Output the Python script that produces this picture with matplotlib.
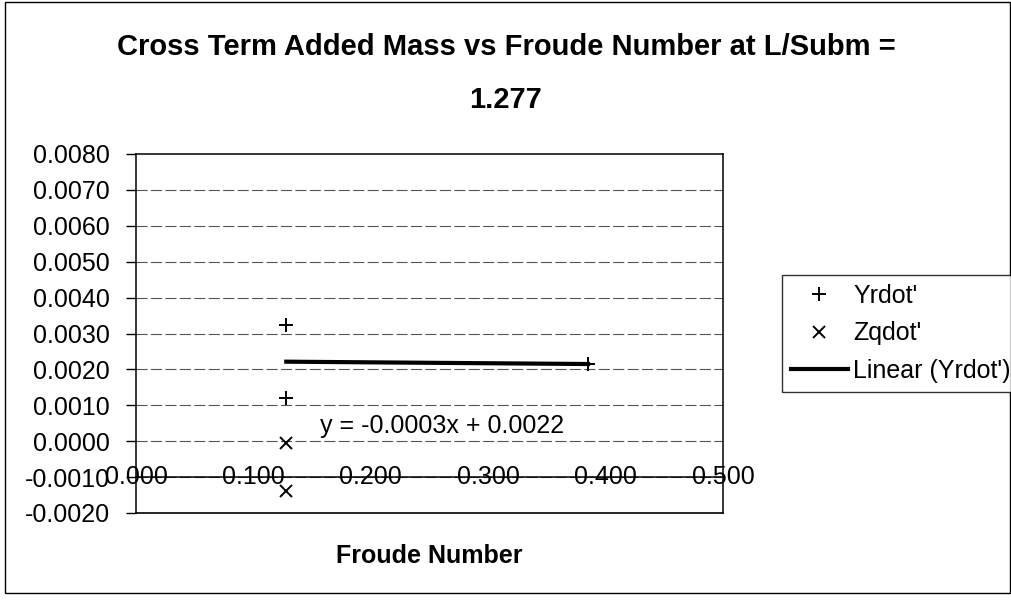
import numpy as np
import matplotlib.pyplot as plt
from matplotlib import font_manager
from matplotlib.patches import Rectangle

plt.rcParams['font.family'] = ['Liberation Sans', 'DejaVu Sans']

# Froude number / cross-term added mass data
yrdot_fn = [0.128, 0.128, 0.385]
yrdot_val = [0.00324, 0.00119, 0.00215]
zqdot_fn = [0.128, 0.128]
zqdot_val = [-0.00005, -0.00139]

x_ticks = [0.0, 0.1, 0.2, 0.3, 0.4, 0.5]
y_ticks = [-0.002, -0.001, 0.0, 0.001, 0.002, 0.003, 0.004, 0.005, 0.006, 0.007, 0.008]

title_lines = ['Cross Term Added Mass vs Froude Number at L/Subm =', '1.277']

# narrow bold face for the title if available
installed = {f.name for f in font_manager.fontManager.ttflist}
if 'Liberation Sans Narrow' in installed:
    title_font, title_size = 'Liberation Sans Narrow', 26
else:
    title_font, title_size = 'Liberation Sans', 21

# linear trendline on Yrdot'
slope, intercept = np.polyfit(yrdot_fn, yrdot_val, 1)

fig = plt.figure(figsize=(10.12, 6.0), dpi=100)
ax = fig.add_axes([136 / 1012, 1 - 513 / 600, 587 / 1012, 359 / 600])

# grid lines
for yv in y_ticks[1:-1]:
    ax.axhline(yv, color='#555555', lw=0.8, ls=(0, (10, 3)), zorder=1)

ax.plot(yrdot_fn, yrdot_val, ls='none', marker='+', ms=10, mew=1.4,
        color='black', label="Yrdot'", zorder=3)
ax.plot(zqdot_fn, zqdot_val, ls='none', marker='x', ms=8, mew=1.4,
        color='black', label="Zqdot'", zorder=3)

tx = np.array([min(yrdot_fn), max(yrdot_fn)])
ax.plot(tx, slope * tx + intercept, color='black', lw=3,
        label="Linear (Yrdot')", zorder=2)

ax.text(0.157, 0.00042, f"y = {slope:.4f}x + {intercept:.4f}",
        fontsize=18, ha='left', va='center')

ax.set_xlim(0, 0.5)
ax.set_ylim(-0.002, 0.008)
ax.set_xticks(x_ticks)
ax.set_xticklabels([f"{v:.3f}" for v in x_ticks])
ax.set_yticks(y_ticks)
ax.set_yticklabels([f"{v:.4f}" for v in y_ticks])

# x axis crosses at -0.001, labels sit on the axis line
ax.spines['bottom'].set_position(('data', -0.001))
ax.axhline(-0.002, color='black', lw=1.2, clip_on=False, zorder=4)
for s in ['left', 'right', 'top', 'bottom']:
    ax.spines[s].set_color('black')
    ax.spines[s].set_linewidth(1.1)
ax.tick_params(axis='x', length=0, pad=0, labelsize=18)
for lbl in ax.get_xticklabels():
    lbl.set_verticalalignment('center')
ax.tick_params(axis='y', length=7, width=1, pad=12, labelsize=18, direction='out')

ax.set_xlabel('Froude Number', fontsize=18, fontweight='bold', va='center')
ax.xaxis.set_label_coords(0.5, -0.12)

fig.text(0.5, 1 - 47 / 600, title_lines[0], ha='center', va='center',
         fontsize=title_size, fontweight='bold', family=title_font)
fig.text(0.5, 1 - 100 / 600, title_lines[1], ha='center', va='center',
         fontsize=title_size, fontweight='bold', family=title_font)

leg = fig.legend(loc='upper left', bbox_to_anchor=(782 / 1012, 1 - 275 / 600),
                 bbox_transform=fig.transFigure, fontsize=18, frameon=True,
                 fancybox=False, borderpad=0.35, borderaxespad=0,
                 handlelength=2.3, handletextpad=0.2, labelspacing=0.55)
leg.get_frame().set_edgecolor('black')
leg.get_frame().set_linewidth(1.0)

# chart area border
fig.patches.append(Rectangle((0.005, 0.012), 0.993, 0.985, transform=fig.transFigure,
                             fill=False, edgecolor='black', lw=1.0))

fig.savefig('out.png', dpi=100)
